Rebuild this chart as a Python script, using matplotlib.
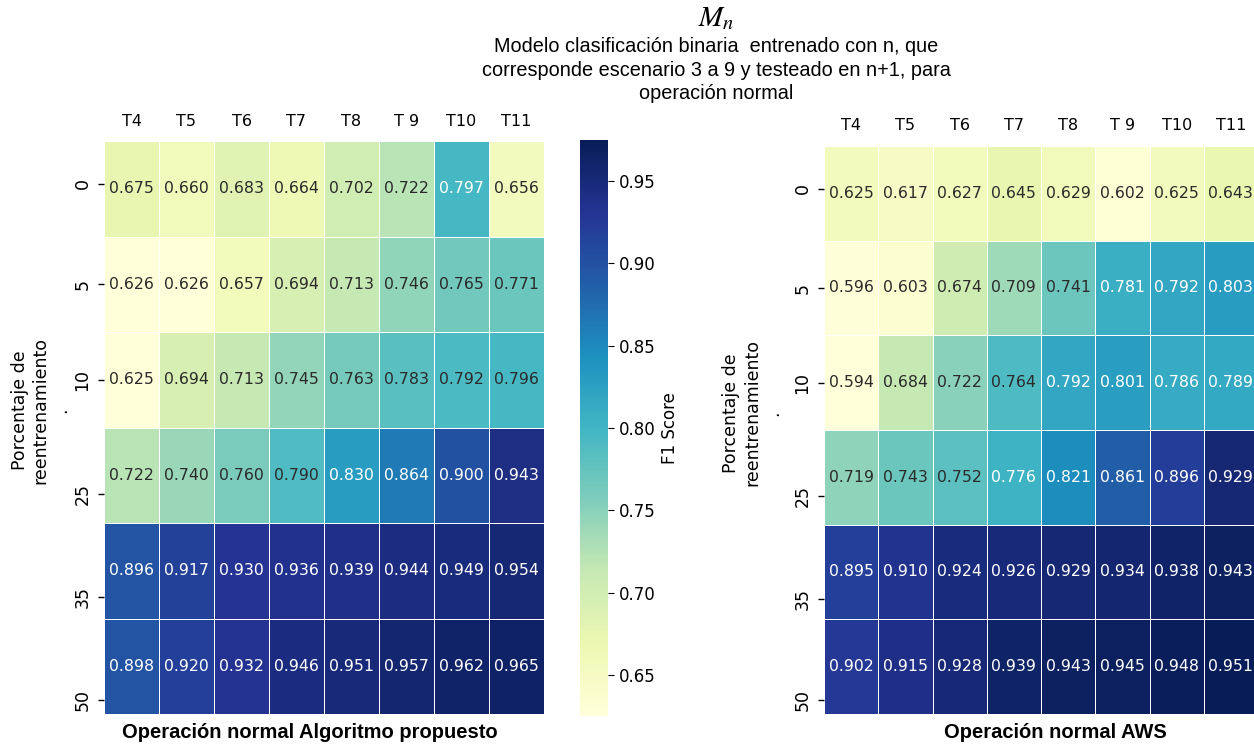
import matplotlib
matplotlib.use("Agg")
import matplotlib.pyplot as plt
import seaborn as sns
import numpy as np

# Retraining percentages (rows) and test scenarios (columns)
retrain_pct = ["0", "5", "10", "25", "35", "50"]
scenarios = ["T4", "T5", "T6", "T7", "T8", "T 9", "T10", "T11"]

# F1 scores, proposed algorithm
f1_proposed = [
    [0.675, 0.660, 0.683, 0.664, 0.702, 0.722, 0.797, 0.656],
    [0.626, 0.626, 0.657, 0.694, 0.713, 0.746, 0.765, 0.771],
    [0.625, 0.694, 0.713, 0.745, 0.763, 0.783, 0.792, 0.796],
    [0.722, 0.740, 0.760, 0.790, 0.830, 0.864, 0.900, 0.943],
    [0.896, 0.917, 0.930, 0.936, 0.939, 0.944, 0.949, 0.954],
    [0.898, 0.920, 0.932, 0.946, 0.951, 0.957, 0.962, 0.965],
]

# F1 scores, AWS
f1_aws = [
    [0.625, 0.617, 0.627, 0.645, 0.629, 0.602, 0.625, 0.643],
    [0.596, 0.603, 0.674, 0.709, 0.741, 0.781, 0.792, 0.803],
    [0.594, 0.684, 0.722, 0.764, 0.792, 0.801, 0.786, 0.789],
    [0.719, 0.743, 0.752, 0.776, 0.821, 0.861, 0.896, 0.929],
    [0.895, 0.910, 0.924, 0.926, 0.929, 0.934, 0.938, 0.943],
    [0.902, 0.915, 0.928, 0.939, 0.943, 0.945, 0.948, 0.951],
]

# Layout: where the row tick marks sit (in row units)
ytick_pos = [0.45, 1.5, 2.5, 3.7, 4.78, 5.85]

plt.rcParams["mathtext.fontset"] = "stix"

W, H = 1254, 744
fig = plt.figure(figsize=(W / 100, H / 100), dpi=100)


def px_axes(x0, y0, x1, y1):
    return fig.add_axes([x0 / W, 1 - y1 / H, (x1 - x0) / W, (y1 - y0) / H])


ax_l = px_axes(104, 141, 544, 714)
cax = px_axes(580, 140, 608, 716)
ax_r = px_axes(824, 146, 1258, 714)

annot_kw = {"fontsize": 11.3}

sns.heatmap(np.array(f1_proposed), ax=ax_l, cmap="YlGnBu", annot=True, fmt=".3f",
            linewidths=0.7, linecolor="white", vmin=0.625, vmax=0.975,
            cbar_ax=cax, cbar_kws={"label": "F1 Score"}, annot_kws=annot_kw)
sns.heatmap(np.array(f1_aws), ax=ax_r, cmap="YlGnBu", annot=True, fmt=".3f",
            linewidths=0.7, linecolor="white", cbar=False, annot_kws=annot_kw)


def recolor_annotations(ax, white_from):
    # light text on the darker cells, dark grey text elsewhere
    for t in ax.texts:
        v = float(t.get_text())
        t.set_color("white" if v >= white_from else "#2b2b2b")


recolor_annotations(ax_l, 0.797)
recolor_annotations(ax_r, 0.776)

for ax, lx in ((ax_l, -0.077), (ax_r, -0.097)):
    ax.xaxis.tick_top()
    ax.set_xticks(np.arange(len(scenarios)) + 0.5)
    ax.set_xticklabels(scenarios, fontsize=11.5)
    ax.tick_params(axis="x", length=0, pad=9)
    ax.set_yticks(ytick_pos)
    ax.set_yticklabels(retrain_pct, rotation=90, va="center", fontsize=12.5)
    ax.tick_params(axis="y", length=4, width=1, pad=5)
    ax.set_ylabel("Porcentaje de\nreentrenamiento\n.", fontsize=12.5)
    ax.yaxis.set_label_coords(lx, 0.53)
    ax.set_xlabel("")

cax.tick_params(labelsize=12, length=4)
cax.yaxis.label.set_size(12)

# Title block
fig.text(716 / W, 1 - 18 / H, r"$M_n$", ha="center", va="center", fontsize=21)
fig.text(716 / W, 1 - 70 / H,
         "Modelo clasificación binaria  entrenado con n, que\n"
         "corresponde escenario 3 a 9 y testeado en n+1, para\n"
         "operación normal",
         ha="center", va="center", fontsize=14.3, family="Liberation Sans",
         linespacing=1.3)

# Panel captions
fig.text(310 / W, 1 - 733 / H, "Operación normal Algoritmo propuesto",
         ha="center", va="center", fontsize=14.5, fontweight="bold",
         family="Liberation Sans")
fig.text(1055 / W, 1 - 733 / H, "Operación normal AWS",
         ha="center", va="center", fontsize=14.5, fontweight="bold",
         family="Liberation Sans")

fig.savefig("out.png", dpi=100)
